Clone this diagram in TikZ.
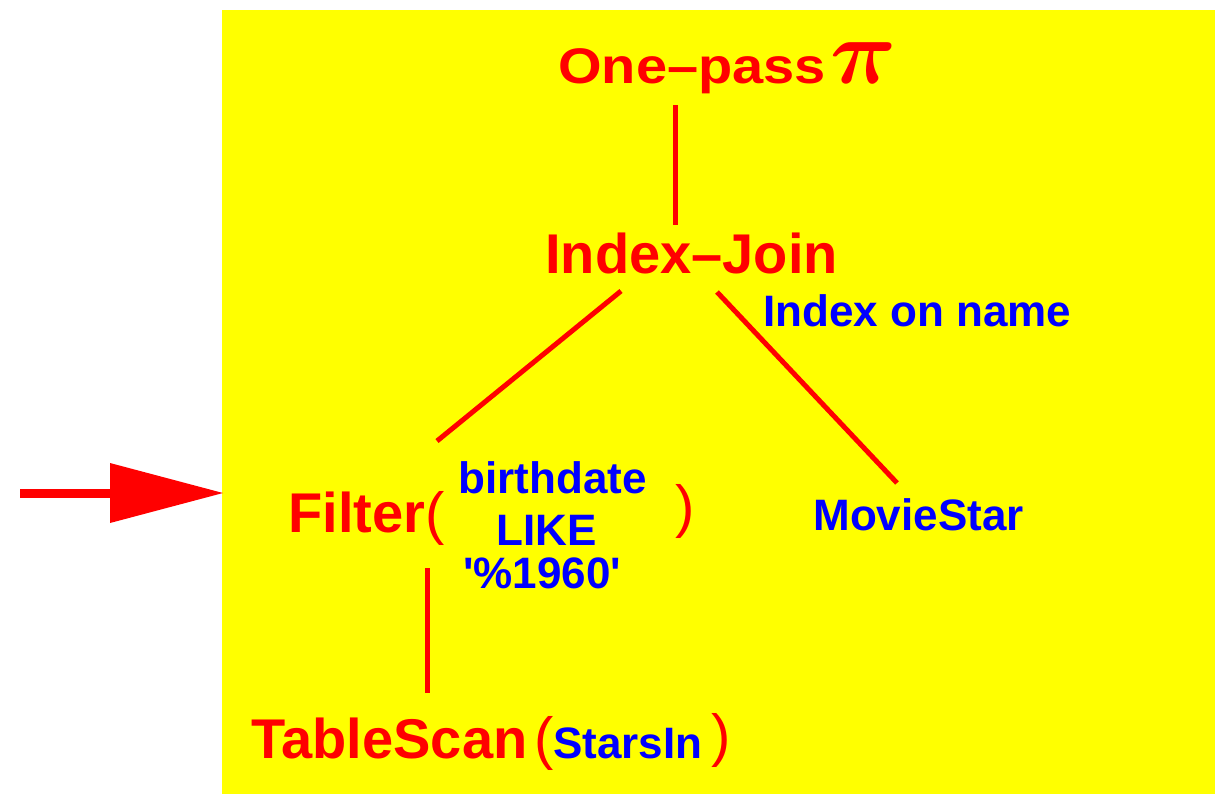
\documentclass[tikz,border=0pt]{standalone}
\usepackage{fontspec}
\setmainfont{Liberation Sans}
\usepackage{graphicx}
\definecolor{ylw}{RGB}{255,255,0}
\definecolor{rd}{RGB}{255,0,0}
\definecolor{bl}{RGB}{0,0,255}
\newcommand{\mypisym}{\scalebox{4.6}{\boldmath$\pi$}}
\tikzset{
  redtxt/.style={text=rd, font=\fontsize{28}{30}\selectfont\bfseries, inner sep=0pt, anchor=base west},
  bluetxt/.style={text=bl, font=\fontsize{22}{24}\selectfont\bfseries, inner sep=0pt, anchor=base west},
  paren/.style={text=rd, font=\fontsize{29}{30}\selectfont, inner sep=0pt, anchor=base west},
  treeedge/.style={draw=rd, line width=2.5pt},
}
\begin{document}
\begin{tikzpicture}[x=0.5pt,y=-0.5pt]
\useasboundingbox (0,0) rectangle (1215,794);
\fill[ylw] (222,10) rectangle (1215,794);
% texts
\node[redtxt] (onepass) at (558,83) {\scalebox{1.12}[1]{\fontsize{25}{26}\selectfont\bfseries One–pass}};
\node[text=rd, inner sep=0pt, anchor=base west] (pisym) at (830,83) {\mypisym};
\node[redtxt] (ij) at (545,273) {Index–Join};
\node[bluetxt] (ion) at (763,326) {Index on name};
\node[redtxt] (filter) at (288,532) {Filter};
\node[paren] (lp1) at (425,533) {(};
\node[bluetxt] (bd) at (458,493) {birthdate};
\node[bluetxt] (like) at (496,545) {LIKE};
\node[bluetxt] (pct) at (463,588) {\textquotesingle\%1960\textquotesingle};
\node[paren] (rp1) at (675,526) {)};
\node[bluetxt] (ms) at (813,530) {MovieStar};
\node[redtxt] (ts) at (251,758) {TableScan};
\node[paren] (lp2) at (534,758) {(};
\node[bluetxt] (si) at (553,758) {StarsIn};
\node[paren] (rp2) at (711,755) {)};
% connector end points
\coordinate (e1a) at (675,105);
\coordinate (e1b) at (675,225);
\coordinate (e2a) at (621,291);
\coordinate (e2b) at (437,441);
\coordinate (e3a) at (717,292);
\coordinate (e3b) at (897,483);
\coordinate (e4a) at (427,568);
\coordinate (e4b) at (427,693);
\draw[treeedge] (e1a) -- (e1b);
\draw[treeedge] (e2a) -- (e2b);
\draw[treeedge] (e3a) -- (e3b);
\draw[treeedge] (e4a) -- (e4b);
% pointer arrow
\coordinate (tip) at (223,493);
\fill[rd] (20,489) rectangle (111,498);
\fill[rd] (110,463) -- (tip) -- (110,523) -- cycle;
\end{tikzpicture}
\end{document}
